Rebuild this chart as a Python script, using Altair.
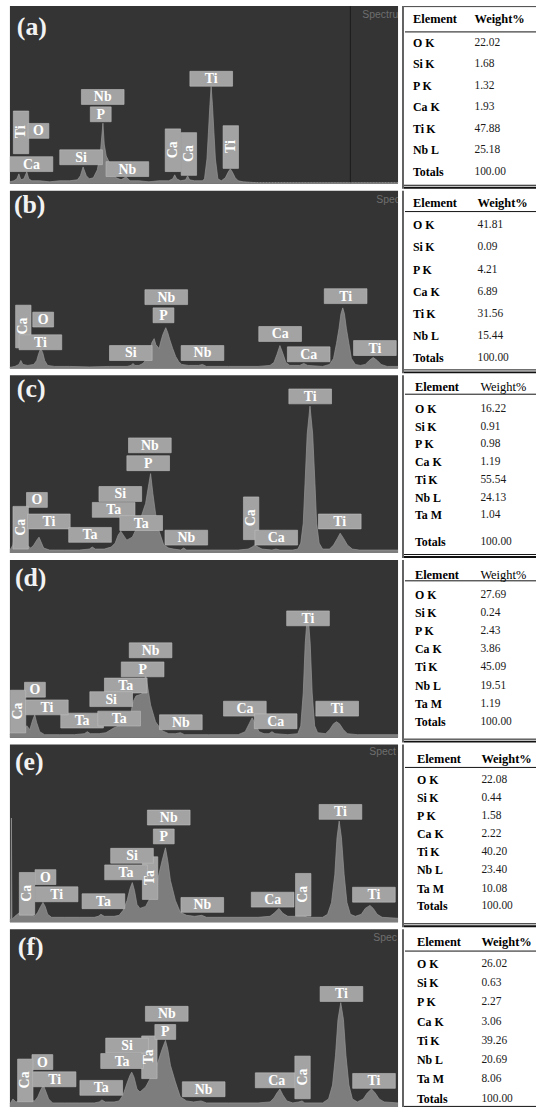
import altair as alt
import pandas as pd

# ---------------- spectra: (channel, counts) ----------------
spec_a = [(0,2),(4,3),(7,5),(9,10),(11,4),(14,5),(17,12),(19,5),(22,3),(30,3),(40,2),(50,3),(60,3),
          (68,4),(71,8),(73.7,17),(77,8),(80,5),(84,6),(88,14),(91,30),(93.7,61),(95,40),(97,28),(100,22),
          (103,12),(107,6),(112,4),(117,7),(121,3),(130,3),(140,2),(150,3),(160,3),(164,5),(166,9),(168,5),
          (172,3),(177,4),(179,8),(181,4),(186,3),(194,3),(196,5),(198.5,25),(200,52),(201.5,80),(202.7,98),
          (204,80),(205.5,52),(207,25),(209.5,5),(213,3),(217,6),(220,12),(222,15),(224,12),(227,6),(230,3),
          (235,2),(250,1),(300,1),(391,1)]
spec_b = [(0,1),(5,2),(9,4),(11,8),(13,4),(18,3),(24,4),(27,8),(29,15),(31,20),(33,16),(35,8),(38,3),(45,2),
          (60,2),(80,1.5),(100,2),(118,2),(122,3),(124,5),(126,3),(130,3),(134,5),(138,10),(141,18),(143,26),
          (145.3,30),(147,24),(150.3,20),(152,27),(154,34),(157,41),(159,36),(161,29),(164,20),(167,12),(170,7),
          (173,4),(180,3),(190,3),(194,4),(198,2),(220,2),(250,2),(262,3),(266,6),(269,14),(272,23),(275,15),
          (278,6),(282,3),(292,3),(296,5),(300,3),(315,2),(322,4),(326,10),(329,25),(331.5,40),(333.5,55),
          (335.3,61),(337,55),(339,40),(341.5,25),(344,10),(348,4),(353,3),(358,4),(362,8),(366,11),(370,8),
          (374,4),(380,2),(391,2)]
spec_c = [(0,3),(3,8),(5,20),(7,6),(10,6),(14,10),(17,8),(21,5),(24,8),(27,13),(29.3,16),(31,12),(34,5),
          (40,3),(55,3),(70,3),(80,4),(83,6),(86,4),(95,4),(102,6),(106,10),(109,18),(111.7,22),(115,17),
          (117.7,13),(123.3,16),(130,30),(136.7,50),(140,70),(141.7,80),(144,60),(146.7,40),(150,23),(155,8),
          (160,5),(165,4),(172,3),(175,5),(178,3),(200,3),(230,3),(240,4),(244,6),(246.7,8),(250,6),(254,4),
          (264,3),(268,4),(272,3),(285,3),(290,4),(293,10),(295.5,30),(297.3,70),(299.5,120),(302.3,148),
          (305,120),(307.3,70),(309,30),(311.5,10),(315,4),(322,4),(326,8),(330,15),(332.7,20),(336,15),
          (340,8),(345,4),(352,3),(391,3)]
spec_d = [(0,3),(3,10),(6,14),(9,8),(13,6),(17,12),(20,8),(23,18),(25,23),(27,15),(30,6),(35,3),(50,3),
          (65,3),(75,4),(78,6),(81,4),(90,4),(96.7,5),(105,10),(113.3,13),(121.7,24),(124,36),(127,42),
          (133,44),(136.7,63),(139,50),(141.7,33),(146.7,16),(153.3,7),(160,4),(167,4),(171.7,5),(176,3),
          (200,3),(230,3),(237,6),(241,14),(244,20),(247,14),(251,6),(256,4),(261,4),(264,6),(267,4),(280,3),
          (290,4),(293,12),(295.5,45),(297.5,95),(300,128),(302.5,95),(304.5,45),(307,12),(310,5),(318,4),
          (322,8),(326,14),(329,16),(332,14),(336,8),(340,4),(350,3),(391,3)]
spec_e = [(0,3),(1,3),(1.5,105),(2,3),(5,6),(10,10),(15,8),(20,8),(25,6),(28,10),(31,16),(33.3,20),
          (35.5,16),(38,8),(42,5),(55,5),(70,5),(85,5),(89,6),(91.7,8),(95,6),(105,6),(110,7),(114,12),
          (118,22),(121,34),(123.3,40),(125.5,32),(128,18),(131,14),(136.7,16),(142,26),(146.7,35),(150,48),
          (153.3,62),(156.7,75),(159,62),(161.7,42),(166.7,22),(171.7,10),(178,7),(186,6),(193.3,7),(198,5),
          (220,5),(250,5),(262,6),(266,9),(271,14),(275,9),(280,6),(290,6),(295,7),(300,5),(315,5),(320,8),
          (324,20),(327.3,48),(329.5,85),(331.7,102),(334,85),(336.7,48),(339.5,20),(343,8),(348,6),(354,8),
          (358,14),(362.7,17),(366,14),(370,8),(375,5),(391,4)]
spec_f = [(0,3),(3,8),(6,5),(10,6),(15,8),(20,7),(25,6),(28,10),(31,17),(33.7,22),(36,16),(39,8),(43,4),
          (55,4),(70,4),(85,4),(90,5),(92.7,7),(96,5),(105,5),(110,6),(114,12),(118,24),(121,32),(122.7,35),
          (125,30),(128,18),(131,15),(136.7,20),(142,30),(146.7,38),(150,48),(153.3,58),(156.7,67),(159,58),
          (161.7,42),(166.7,25),(171.7,10),(178,6),(185,5),(192.7,6),(198,4),(220,4),(250,4),(262,5),(266,9),
          (269,14),(272,18),(275,12),(279,6),(285,4),(291,5),(294.3,6),(297,4),(315,4),(321,8),(325,22),
          (328,52),(330.5,88),(333.3,105),(336,88),(338.5,52),(341.5,22),(345,8),(350,5),(356,8),(360,14),
          (364.3,18),(368,14),(372,8),(377,5),(391,4)]

# ---------------- peak labels: (element, channel, counts, box kind) ----------------
labels_a = [("Ti",202.8,105.8,"h"),("Nb",93.5,87.5,"h"),("P",91.5,70,"n"),("Ti",11.2,51.8,"v"),
            ("O",28.7,53.3,"n"),("Ca",21.7,19.8,"h"),("Si",71.7,26.7,"h"),("Nb",118.3,14.8,"h"),
            ("Ca",164.2,33.8,"v"),("Ca",180.3,30,"v"),("Ti",222.5,37,"v")]
labels_b = [("Ca",13.5,42.2,"v"),("O",33.5,49.2,"n"),("Ti",30.7,26.3,"h"),("Si",121.8,15.5,"h"),
            ("Nb",157.5,71.8,"h"),("P",154.7,53.5,"n"),("Nb",194,15.5,"h"),("Ca",272.2,34.7,"h"),
            ("Ca",301,14.2,"h"),("Ti",338.2,72.8,"h"),("Ti",367.7,20.5,"h")]
labels_c = [("Ti",302.5,157.8,"h"),("Nb",141,108.5,"h"),("P",139.3,90.5,"h"),("Si",111.2,59.5,"h"),
            ("Ta",104.5,43.5,"h"),("Ta",132.2,30.2,"h"),("O",27.2,53.5,"n"),("Ca",10.8,25.5,"v"),
            ("Ti",39.2,31.8,"h"),("Ta",80.7,18.3,"h"),("Nb",177.7,15.5,"h"),("Ca",243,35,"v"),
            ("Ca",268.3,15.5,"h"),("Ti",332.3,31.8,"h")]
labels_d = [("Ti",300.3,120.2,"h"),("Nb",141.7,88,"h"),("P",133.7,68.8,"h"),("Ta",116.7,52.5,"h"),
            ("Si",102,38.8,"h"),("Ta",72.7,17.2,"h"),("Ta",110,19.2,"h"),("O",25.2,48.3,"n"),
            ("Ca",8.2,26.3,"v"),("Ti",37.2,30.5,"h"),("Nb",172.2,15.5,"h"),("Ca",236.7,29.2,"h"),
            ("Ca",267.7,16.5,"h"),("Ti",329.7,29.2,"h")]
labels_e = [("Ti",333,111.2,"h"),("Nb",160,105.5,"h"),("P",155,86.5,"n"),("Ta",141.2,44.5,"v"),
            ("Si",123,67,"h"),("Ta",117,50.3,"h"),("O",35.8,45.5,"n"),("Ca",17.2,28.7,"v"),
            ("Ti",47,28.2,"h"),("Ta",94.2,21.2,"h"),("Nb",193.8,17.5,"h"),("Ca",264.7,22.8,"h"),
            ("Ca",295.5,27.7,"v"),("Ti",366.7,27.8,"h")]
labels_f = [("Ti",334,113.8,"h"),("Nb",158,93.8,"h"),("Ta",140.5,50,"v"),("P",156.5,75.5,"n"),
            ("Si",118,61.8,"h"),("Ta",113,46.2,"h"),("O",32.7,45.2,"n"),("Ca",15.5,26.7,"v"),
            ("Ti",45,27.8,"h"),("Ta",92,19.2,"h"),("Nb",195.2,17.8,"h"),("Ca",268.7,26.8,"h"),
            ("Ca",294.8,29.7,"v"),("Ti",366.8,26.2,"h")]

# ---------------- composition tables ----------------
elements_6 = ["O K", "Si\u2009K", "P K", "Ca K", "Ti\u2009K", "Nb L"]
elements_7 = elements_6 + ["Ta M"]
weights_a = [22.02, 1.68, 1.32, 1.93, 47.88, 25.18]
weights_b = [41.81, 0.09, 4.21, 6.89, 31.56, 15.44]
weights_c = [16.22, 0.91, 0.98, 1.19, 55.54, 24.13, 1.04]
weights_d = [27.69, 0.24, 2.43, 3.86, 45.09, 19.51, 1.19]
weights_e = [22.08, 0.44, 1.58, 2.22, 40.20, 23.40, 10.08]
weights_f = [26.02, 0.63, 2.27, 3.06, 39.26, 20.69, 8.06]
totals = [100.00, 100.00, 100.00, 100.00, 100.00, 100.00]
panel_letters = ["(a)", "(b)", "(c)", "(d)", "(e)", "(f)"]
# visible part of the instrument's window caption in each panel
captions = ["Spectru", "Spec", None, None, "Spect", "Spec"]

# ---------------- styling / layout ----------------
BG = "#343434"
SPEC = "#7d7d7d"
BOX = "#a3a3a3"
SERIF = "Liberation Serif"
W_SPEC, H_SPEC, W_TAB = 391, 179, 135

xs = alt.Scale(domain=[0, W_SPEC], nice=False, zero=False)
ys = alt.Scale(domain=[0, H_SPEC], nice=False, zero=False)
one = pd.DataFrame({"k": [0]})


def make_spec(letter, spec, labels, letter_at, caption, tag_at, divider):
    df = pd.DataFrame(spec, columns=["ch", "counts"])
    X = alt.X("ch:Q", scale=xs, axis=None)
    Y = alt.Y("counts:Q", scale=ys, axis=None)
    layers = []
    layers.append(alt.Chart(one).mark_rect(color=BG)
                  .encode(x=alt.value(0), x2=alt.value(W_SPEC), y=alt.value(0), y2=alt.value(H_SPEC)))
    layers.append(alt.Chart(pd.DataFrame({"ch": [0, W_SPEC], "counts": [1, 1]}))
                  .mark_line(color="#8a8a8a", strokeDash=[1, 2], strokeWidth=1).encode(x=X, y=Y))
    if divider is not None:
        layers.append(alt.Chart(pd.DataFrame({"ch": [divider, divider], "counts": [0, H_SPEC]}))
                      .mark_line(color="#1c1c1c", strokeWidth=1).encode(x=X, y=Y))
    layers.append(alt.Chart(df).mark_area(color=SPEC, interpolate="linear", opacity=1).encode(x=X, y=Y))
    layers.append(alt.Chart(df).mark_line(color="#969696", strokeWidth=0.7, interpolate="linear")
                  .encode(x=X, y=Y))
    lab = pd.DataFrame(labels, columns=["el", "ch", "counts", "kind"])
    boxes = (alt.Chart(lab)
             .transform_calculate(hw="datum.kind == 'h' ? 21.5 : (datum.kind == 'n' ? 10.5 : 7.75)",
                                  hh="datum.kind == 'v' ? 21.5 : 7.5")
             .transform_calculate(x1="datum.ch - datum.hw", x2="datum.ch + datum.hw",
                                  y1="datum.counts - datum.hh", y2="datum.counts + datum.hh")
             .mark_rect(color=BOX, stroke="#bdbdbd", strokeWidth=0.6)
             .encode(x=alt.X("x1:Q", scale=xs, axis=None), x2="x2:Q",
                     y=alt.Y("y1:Q", scale=ys, axis=None), y2="y2:Q"))
    layers.append(boxes)
    txt = dict(font=SERIF, fontWeight="bold", fontSize=14, color="white", align="center", baseline="middle")
    layers.append(alt.Chart(lab).transform_filter("datum.kind != 'v'").mark_text(dy=0.5, **txt)
                  .encode(x=X, y=Y, text="el:N"))
    layers.append(alt.Chart(lab).transform_filter("datum.kind == 'v'").mark_text(angle=270, dx=0.5, **txt)
                  .encode(x=X, y=Y, text="el:N"))
    layers.append(alt.Chart(pd.DataFrame({"ch": [letter_at[0]], "counts": [letter_at[1]], "t": [letter]}))
                  .mark_text(font=SERIF, fontWeight="bold", fontSize=26, color="#f2f2f2",
                             align="left", baseline="middle")
                  .encode(x=X, y=Y, text="t:N"))
    if caption is not None:
        layers.append(alt.Chart(pd.DataFrame({"ch": [tag_at[0]], "counts": [tag_at[1]], "t": [caption]}))
                      .mark_text(font="Liberation Sans", fontSize=10.5, color="#6e6e6e", align="left",
                                 baseline="middle", clip=True)
                      .encode(x=X, y=Y, text="t:N"))
    return alt.layer(*layers).properties(width=W_SPEC, height=H_SPEC)


def make_table(elems, wts, total, ypos, xpos, sep, bold_hdr, top_thin, height):
    n = len(elems)
    hdr_px, r1_px, rn_px, tot_px = ypos
    ysc = alt.Scale(domain=[1, n], range=[r1_px, rn_px], nice=False, zero=False)
    xsc = alt.Scale(domain=[0, 1], range=list(xpos), nice=False, zero=False)
    rows = pd.DataFrame({"row": list(range(1, n + 1)), "el": elems,
                         "wt": [f"{w:.2f}" for w in wts], "c0": 0, "c1": 1})
    tot = pd.DataFrame({"el": ["Totals"], "wt": [f"{total:.2f}"], "c0": [0], "c1": [1]})
    hdr = pd.DataFrame({"t0": ["Element"], "t1": ["Weight%"], "c0": [0], "c1": [1]})
    Y = alt.Y("row:Q", scale=ysc, axis=None)
    X0 = alt.X("c0:Q", scale=xsc, axis=None)
    X1 = alt.X("c1:Q", scale=xsc, axis=None)
    bold = dict(font=SERIF, fontWeight="bold", fontSize=12, align="left", baseline="middle", color="#000")
    reg = dict(font=SERIF, fontSize=11.5, align="left", baseline="middle", color="#1a1a1a")
    layers = [
        alt.Chart(hdr).mark_text(font=SERIF, fontWeight="bold", fontSize=12.5, align="left",
                                 baseline="middle", color="#000")
        .encode(x=X0, y=alt.value(hdr_px), text="t0:N"),
        alt.Chart(hdr).mark_text(font=SERIF, fontWeight="bold" if bold_hdr else "normal", fontSize=12.5,
                                 align="left", baseline="middle", color="#000")
        .encode(x=X1, y=alt.value(hdr_px), text="t1:N"),
        alt.Chart(rows).mark_text(**bold).encode(x=X0, y=Y, text="el:N"),
        alt.Chart(rows).mark_text(**reg).encode(x=X1, y=Y, text="wt:N"),
        alt.Chart(tot).mark_text(**bold).encode(x=X0, y=alt.value(tot_px), text="el:N"),
        alt.Chart(tot).mark_text(**reg).encode(x=X1, y=alt.value(tot_px), text="wt:N"),
        alt.Chart(one).mark_rule(color="#111", strokeWidth=1)
        .encode(x=alt.value(3), x2=alt.value(W_TAB), y=alt.value(sep)),
        alt.Chart(one).mark_rule(color="#111", strokeWidth=1)
        .encode(x=alt.value(2), x2=alt.value(W_TAB), y=alt.value(height - 3.5)),
        alt.Chart(one).mark_rule(color="#111", strokeWidth=2)
        .encode(x=alt.value(2), x2=alt.value(W_TAB), y=alt.value(height - 1)),
        alt.Chart(one).mark_rule(color="#2e2e2e", strokeWidth=1.5)
        .encode(x=alt.value(1), y=alt.value(0), y2=alt.value(height)),
    ]
    if top_thin:
        layers.append(alt.Chart(one).mark_rule(color="#444", strokeWidth=1)
                      .encode(x=alt.value(2), x2=alt.value(W_TAB), y=alt.value(0.5)))
    return alt.layer(*layers).properties(width=W_TAB, height=height)


panels = [
    dict(spec=spec_a, labels=labels_a, letter_at=(7, 157.5), tag_at=(355, 170), divider=343,
         elems=elements_6, wts=weights_a, ypos=(13, 37, 145, 167), xpos=(11, 73), sep=26, bold=True, top=True),
    dict(spec=spec_b, labels=labels_b, letter_at=(4, 164.7), tag_at=(369, 170), divider=None,
         elems=elements_6, wts=weights_b, ypos=(12, 35, 146, 169), xpos=(11, 76), sep=21, bold=True, top=False),
    dict(spec=spec_c, labels=labels_c, letter_at=(7, 165), tag_at=None, divider=None,
         elems=elements_7, wts=weights_c, ypos=(12, 34, 141, 168), xpos=(13, 79), sep=19, bold=False, top=False),
    dict(spec=spec_d, labels=labels_d, letter_at=(5, 161), tag_at=None, divider=None,
         elems=elements_7, wts=weights_d, ypos=(15, 35, 145, 163), xpos=(13, 79), sep=21, bold=False, top=False),
    dict(spec=spec_e, labels=labels_e, letter_at=(5, 161), tag_at=(362, 172), divider=None,
         elems=elements_7, wts=weights_e, ypos=(15, 36, 145, 163), xpos=(15, 80), sep=23, bold=True, top=False),
    dict(spec=spec_f, labels=labels_f, letter_at=(8, 161), tag_at=(366, 170), divider=None,
         elems=elements_7, wts=weights_f, ypos=(13, 35, 151, 171), xpos=(15, 80), sep=22, bold=True, top=False),
]

rows_list = []
for i, p in enumerate(panels):
    h = 182 if i == len(panels) - 1 else 184
    spec = make_spec(panel_letters[i], p["spec"], p["labels"], p["letter_at"], captions[i], p["tag_at"],
                     p["divider"])
    tab = make_table(p["elems"], p["wts"], totals[i], p["ypos"], p["xpos"], p["sep"], p["bold"], p["top"], h)
    rows_list.append(alt.hconcat(spec, tab, spacing=2))

chart = (alt.vconcat(*rows_list, spacing=0)
         .properties(padding={"left": 8, "top": 0, "right": 0, "bottom": 0}, background="white")
         .configure_view(strokeWidth=0))

chart.save("out.html", embed_options={"renderer": "svg", "actions": False})
